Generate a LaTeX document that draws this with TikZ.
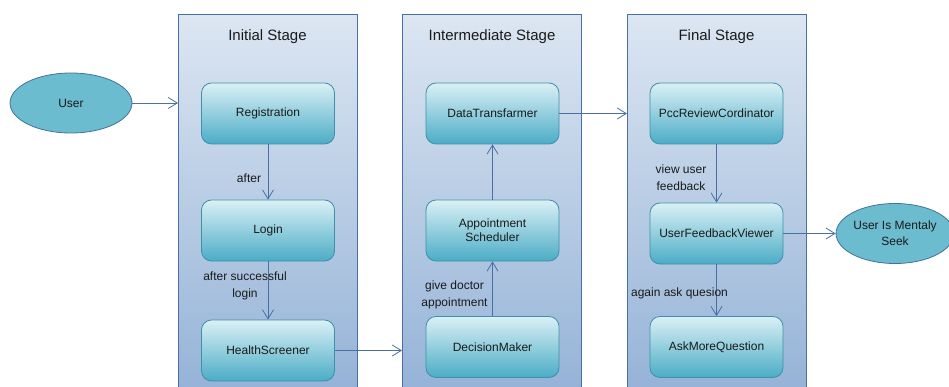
\documentclass[tikz,border=0pt]{standalone}
\usepackage{fontspec}
\setmainfont{Liberation Sans}
\usetikzlibrary{arrows.meta,shapes.geometric}
\definecolor{contTop}{HTML}{DCE6F2}
\definecolor{contBot}{HTML}{95B3D7}
\definecolor{contLine}{HTML}{4A6FA5}
\definecolor{boxTop}{HTML}{DAF0F5}
\definecolor{boxBot}{HTML}{4BACC6}
\definecolor{boxLine}{HTML}{3F90A8}
\definecolor{ellFill}{HTML}{6CBCD0}
\definecolor{ellLine}{HTML}{41719C}
\definecolor{arrLine}{HTML}{4A6FA5}
\definecolor{txt}{HTML}{1A1A1A}
\tikzset{
  container/.style={draw=contLine, line width=0.9pt, top color=contTop, bottom color=contBot,
    minimum width=179pt, minimum height=375pt, anchor=north west, inner sep=0pt},
  stagebox/.style={draw=boxLine, line width=0.8pt, top color=boxTop, bottom color=boxBot,
    rounded corners=10pt, minimum width=133pt, minimum height=61pt, inner sep=0pt,
    font=\fontsize{12}{14}\selectfont, text=txt, align=center},
  actor/.style={ellipse, draw=ellLine, line width=0.8pt, fill=ellFill, inner sep=0pt,
    font=\fontsize{12}{16}\selectfont, text=txt, align=center},
  title/.style={font=\fontsize{15}{18}\selectfont, text=txt},
  lbl/.style={font=\fontsize{12}{17}\selectfont, text=txt, align=center, inner sep=0pt},
  arr/.style={draw=arrLine, line width=0.8pt, -{Straight Barb[length=9pt,width=11pt,line width=0.8pt]}}
}
\begin{document}
\begin{tikzpicture}[x=1pt,y=-1pt]
\useasboundingbox (0,0) rectangle (949,387);
\clip (0,0) rectangle (949,387);
\node[container] (c1) at (178,14) {};
\node[container] (c2) at (402,14) {};
\node[container] (c3) at (627,14) {};
\node[title] (t1) at (267.5,37) {Initial Stage};
\node[title] (t2) at (492,37) {Intermediate Stage};
\node[title] (t3) at (716.5,37) {Final Stage};

\node[stagebox] (reg) at (268,113.5) {Registration};
\node[stagebox] (login) at (268,230.5) {Login};
\node[stagebox] (hs) at (268,350.5) {HealthScreener};

\node[stagebox] (dt) at (492.5,113.5) {DataTransfarmer};
\node[stagebox] (as) at (492.5,230.5) {Appointment\\Scheduler};
\node[stagebox] (dm) at (492.5,347) {DecisionMaker};

\node[stagebox] (pcc) at (716.5,113.5) {PccReviewCordinator};
\node[stagebox] (ufv) at (716.5,233.5) {UserFeedbackViewer};
\node[stagebox] (amq) at (716.5,347) {AskMoreQuestion};

\node[actor, minimum width=122pt, minimum height=60pt] (user) at (71,103) {User};
\node[actor, minimum width=114pt, minimum height=60pt] (ment) at (895,233.5) {User Is Mentaly\\Seek};

\draw[arr] (user) -- (user -| c1.west);
\draw[arr] (reg) -- (login);
\draw[arr] (login) -- (hs);
\draw[arr] (hs) -- (hs -| c2.west);
\draw[arr] (dm) -- (as);
\draw[arr] (as) -- (dt);
\draw[arr] (dt) -- (dt -| c3.west);
\draw[arr] (pcc) -- (ufv);
\draw[arr] (ufv) -- (amq);
\draw[arr] (ufv) -- (ment);

\node[lbl] (l1) at (249,178) {after};
\node[lbl] (l2) at (245,285.5) {after successful\\login};
\node[lbl] (l3) at (454.5,294.5) {give doctor\\appointment};
\node[lbl] (l4) at (681,178) {view user\\feedback};
\node[lbl] (l5) at (679.5,293.5) {again ask quesion};
\end{tikzpicture}
\end{document}
